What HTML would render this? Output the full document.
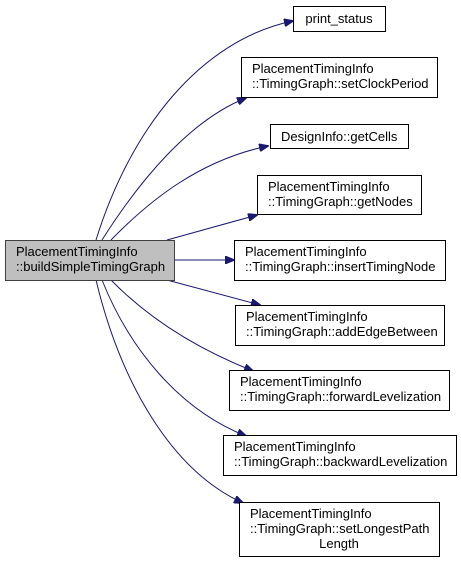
<!DOCTYPE html>
<html><head><style>
body{margin:0;background:#fff;width:461px;height:563px;overflow:hidden}
svg text{font-family:"Liberation Sans",Helvetica,sans-serif;font-size:13px;fill:#000}
</style></head><body>
<svg width="461" height="563" viewBox="0 0 461 563">
<defs><marker id="a" markerWidth="10" markerHeight="8" refX="9" refY="4" orient="auto" markerUnits="userSpaceOnUse"><path d="M0,0 L10,4 L0,8 z" fill="#191970" stroke="#191970"/></marker></defs>
<g fill="none" stroke="#191970" stroke-width="1" marker-end="url(#a)">
<path d="M96,240 C130,130 200,40 293,21"/>
<path d="M102,240 C140,180 190,120 246,98"/>
<path d="M111,240 C150,200 200,160 268,146"/>
<path d="M167,240 L257,215"/>
<path d="M174,260 L234,260"/>
<path d="M167,280 L260,305"/>
<path d="M111,280 C150,320 200,350 253,371"/>
<path d="M102,280 C130,350 180,410 246,436"/>
<path d="M96,280 C120,380 170,470 243,503"/>
</g>
<g stroke="#000" stroke-width="1" fill="#fff">
<rect x="5.5" y="240.5" width="169" height="40" fill="#bfbfbf" stroke="#404040"/>
<rect x="293.5" y="6.5" width="92" height="25"/>
<rect x="241.5" y="57.5" width="196" height="40"/>
<rect x="270.5" y="124.5" width="138" height="24"/>
<rect x="257.5" y="175.5" width="164" height="39"/>
<rect x="234.5" y="240.5" width="211" height="40"/>
<rect x="235.5" y="305.5" width="209" height="40"/>
<rect x="229.5" y="370.5" width="220" height="40"/>
<rect x="223.5" y="435.5" width="233" height="40"/>
<rect x="239.5" y="502.5" width="200" height="54"/>
</g>
<text x="16" y="256">PlacementTimingInfo</text><text x="16" y="271">::buildSimpleTimingGraph</text>
<text x="339" y="23" text-anchor="middle">print_status</text>
<text x="252" y="73">PlacementTimingInfo</text><text x="252" y="88">::TimingGraph::setClockPeriod</text>
<text x="281" y="141">DesignInfo::getCells</text>
<text x="268" y="191">PlacementTimingInfo</text><text x="268" y="206">::TimingGraph::getNodes</text>
<text x="245" y="256">PlacementTimingInfo</text><text x="245" y="271">::TimingGraph::insertTimingNode</text>
<text x="246" y="321">PlacementTimingInfo</text><text x="246" y="336">::TimingGraph::addEdgeBetween</text>
<text x="240" y="386">PlacementTimingInfo</text><text x="240" y="401">::TimingGraph::forwardLevelization</text>
<text x="234" y="451">PlacementTimingInfo</text><text x="234" y="466">::TimingGraph::backwardLevelization</text>
<text x="250" y="518">PlacementTimingInfo</text><text x="250" y="533">::TimingGraph::setLongestPath</text><text x="339" y="548" text-anchor="middle">Length</text>
</svg>
</body></html>
